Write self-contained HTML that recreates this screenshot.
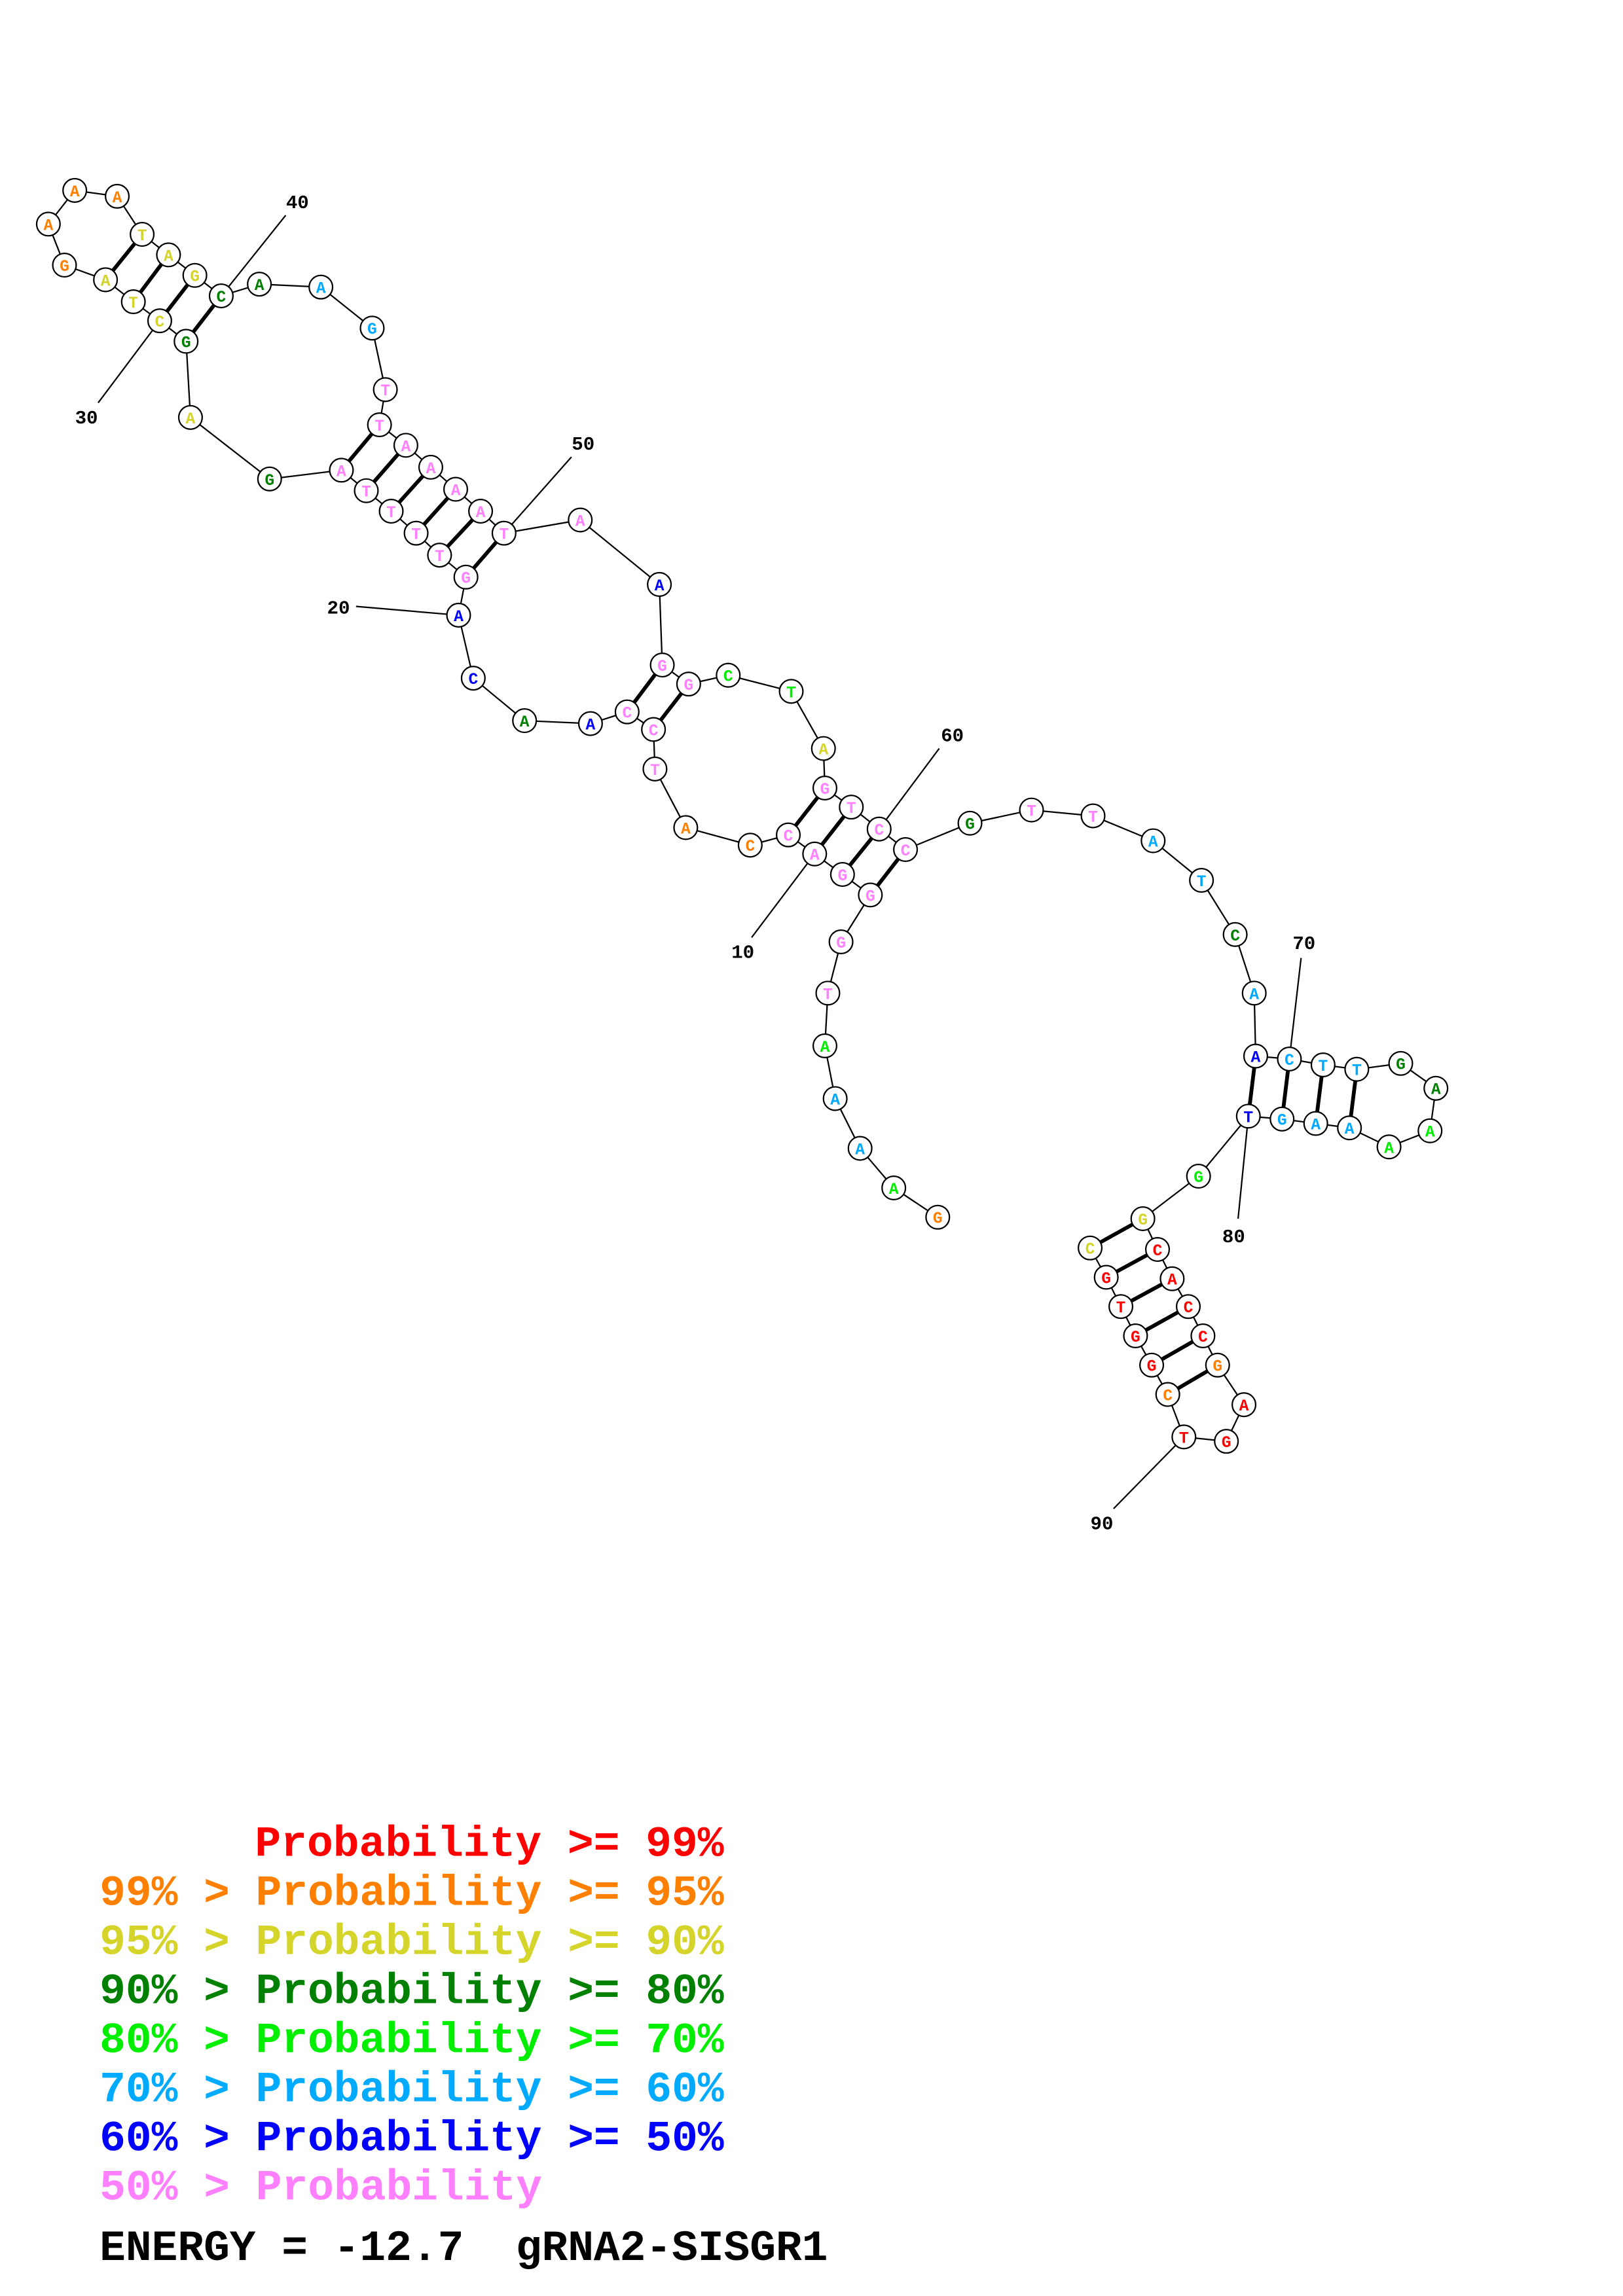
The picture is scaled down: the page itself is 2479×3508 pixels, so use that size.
<!DOCTYPE html>
<html><head><meta charset="utf-8"><style>
html,body{margin:0;padding:0;background:#fff;}
svg{display:block;}
.n circle{fill:#fff;stroke:#000;stroke-width:1;}
.n text{font-family:"Liberation Mono",monospace;font-weight:bold;font-size:11px;text-anchor:middle;}
.lab{font-family:"Liberation Mono",monospace;font-weight:bold;font-size:13px;text-anchor:middle;fill:#000;}
.leg{font-family:"Liberation Mono",monospace;font-weight:bold;font-size:29.5px;}
.R{fill:#ff0000}.O{fill:#ff8000}.Y{fill:#d4d42a}.D{fill:#008000}.L{fill:#00ee00}.C{fill:#00aaff}.B{fill:#0000ff}.P{fill:#ff80ff}
</style></head><body>
<svg width="2479" height="3508" viewBox="0 0 1107.7 1567.5" preserveAspectRatio="none" xmlns="http://www.w3.org/2000/svg">
<g stroke="#000" stroke-width="1" fill="none">
<polyline points="640,831 610,811 587,784 570,750 563,714 565,678 574,643 594,611 575,597 556,583 538,570 512,577 468,565 447,525 446,498 428,486 403,494 358,492 323,463 313,420 318,394 300,379 284,364 267,349 250,335 233,321 184,327 130,285 127,233 109,219 91,206 72,191 44,181 33,153 51,130 80,134 97,160 115,174 133,188 151,202 177,194 219,196 254,224 263,266 259,290 277,304 294,319 311,334 328,349 344,364 396,355 450,399 452,454 470,467 497,461 540,472 562,511 563,538 581,551 600,566 618,580 662,562 704,553 746,557 787,574 820,601 843,638 856,678 857,721 880,723 903,727 926,730 956,726 980,743 976,772 948,783 921,770 898,767 875,764 852,762 818,803 780,832 790,853 800,873 811,892 821,912 831,932 849,959 837,984 808,981 797,952 786,932 775,912 765,892 755,872 744,852"/>
<line x1="513" y1="640" x2="556" y2="583"/>
<line x1="243" y1="414" x2="313" y2="420"/>
<line x1="67" y1="275" x2="109" y2="219"/>
<line x1="195" y1="147" x2="151" y2="202"/>
<line x1="390" y1="312" x2="344" y2="364"/>
<line x1="641" y1="511" x2="600" y2="566"/>
<line x1="888" y1="654" x2="880" y2="723"/>
<line x1="845" y1="832" x2="852" y2="762"/>
<line x1="760" y1="1030" x2="808" y2="981"/>
</g>
<g stroke="#000" stroke-width="2.6">
<line x1="594" y1="611" x2="618" y2="580"/><line x1="575" y1="597" x2="600" y2="566"/><line x1="556" y1="583" x2="581" y2="551"/><line x1="538" y1="570" x2="563" y2="538"/>
<line x1="446" y1="498" x2="470" y2="467"/><line x1="428" y1="486" x2="452" y2="454"/>
<line x1="318" y1="394" x2="344" y2="364"/><line x1="300" y1="379" x2="328" y2="349"/><line x1="284" y1="364" x2="311" y2="334"/><line x1="267" y1="349" x2="294" y2="319"/><line x1="250" y1="335" x2="277" y2="304"/><line x1="233" y1="321" x2="259" y2="290"/>
<line x1="127" y1="233" x2="151" y2="202"/><line x1="109" y1="219" x2="133" y2="188"/><line x1="91" y1="206" x2="115" y2="174"/><line x1="72" y1="191" x2="97" y2="160"/>
<line x1="857" y1="721" x2="852" y2="762"/><line x1="880" y1="723" x2="875" y2="764"/><line x1="903" y1="727" x2="898" y2="767"/><line x1="926" y1="730" x2="921" y2="770"/>
<line x1="780" y1="832" x2="744" y2="852"/><line x1="790" y1="853" x2="755" y2="872"/><line x1="800" y1="873" x2="765" y2="892"/><line x1="811" y1="892" x2="775" y2="912"/><line x1="821" y1="912" x2="786" y2="932"/><line x1="831" y1="932" x2="797" y2="952"/>
</g>
<g class="n">
<circle cx="640" cy="831" r="8"/><text x="640" y="835" class="O">G</text>
<circle cx="610" cy="811" r="8"/><text x="610" y="815" class="L">A</text>
<circle cx="587" cy="784" r="8"/><text x="587" y="788" class="C">A</text>
<circle cx="570" cy="750" r="8"/><text x="570" y="754" class="C">A</text>
<circle cx="563" cy="714" r="8"/><text x="563" y="718" class="L">A</text>
<circle cx="565" cy="678" r="8"/><text x="565" y="682" class="P">T</text>
<circle cx="574" cy="643" r="8"/><text x="574" y="647" class="P">G</text>
<circle cx="594" cy="611" r="8"/><text x="594" y="615" class="P">G</text>
<circle cx="575" cy="597" r="8"/><text x="575" y="601" class="P">G</text>
<circle cx="556" cy="583" r="8"/><text x="556" y="587" class="P">A</text>
<circle cx="538" cy="570" r="8"/><text x="538" y="574" class="P">C</text>
<circle cx="512" cy="577" r="8"/><text x="512" y="581" class="O">C</text>
<circle cx="468" cy="565" r="8"/><text x="468" y="569" class="O">A</text>
<circle cx="447" cy="525" r="8"/><text x="447" y="529" class="P">T</text>
<circle cx="446" cy="498" r="8"/><text x="446" y="502" class="P">C</text>
<circle cx="428" cy="486" r="8"/><text x="428" y="490" class="P">C</text>
<circle cx="403" cy="494" r="8"/><text x="403" y="498" class="B">A</text>
<circle cx="358" cy="492" r="8"/><text x="358" y="496" class="D">A</text>
<circle cx="323" cy="463" r="8"/><text x="323" y="467" class="B">C</text>
<circle cx="313" cy="420" r="8"/><text x="313" y="424" class="B">A</text>
<circle cx="318" cy="394" r="8"/><text x="318" y="398" class="P">G</text>
<circle cx="300" cy="379" r="8"/><text x="300" y="383" class="P">T</text>
<circle cx="284" cy="364" r="8"/><text x="284" y="368" class="P">T</text>
<circle cx="267" cy="349" r="8"/><text x="267" y="353" class="P">T</text>
<circle cx="250" cy="335" r="8"/><text x="250" y="339" class="P">T</text>
<circle cx="233" cy="321" r="8"/><text x="233" y="325" class="P">A</text>
<circle cx="184" cy="327" r="8"/><text x="184" y="331" class="D">G</text>
<circle cx="130" cy="285" r="8"/><text x="130" y="289" class="Y">A</text>
<circle cx="127" cy="233" r="8"/><text x="127" y="237" class="D">G</text>
<circle cx="109" cy="219" r="8"/><text x="109" y="223" class="Y">C</text>
<circle cx="91" cy="206" r="8"/><text x="91" y="210" class="Y">T</text>
<circle cx="72" cy="191" r="8"/><text x="72" y="195" class="Y">A</text>
<circle cx="44" cy="181" r="8"/><text x="44" y="185" class="O">G</text>
<circle cx="33" cy="153" r="8"/><text x="33" y="157" class="O">A</text>
<circle cx="51" cy="130" r="8"/><text x="51" y="134" class="O">A</text>
<circle cx="80" cy="134" r="8"/><text x="80" y="138" class="O">A</text>
<circle cx="97" cy="160" r="8"/><text x="97" y="164" class="Y">T</text>
<circle cx="115" cy="174" r="8"/><text x="115" y="178" class="Y">A</text>
<circle cx="133" cy="188" r="8"/><text x="133" y="192" class="Y">G</text>
<circle cx="151" cy="202" r="8"/><text x="151" y="206" class="D">C</text>
<circle cx="177" cy="194" r="8"/><text x="177" y="198" class="D">A</text>
<circle cx="219" cy="196" r="8"/><text x="219" y="200" class="C">A</text>
<circle cx="254" cy="224" r="8"/><text x="254" y="228" class="C">G</text>
<circle cx="263" cy="266" r="8"/><text x="263" y="270" class="P">T</text>
<circle cx="259" cy="290" r="8"/><text x="259" y="294" class="P">T</text>
<circle cx="277" cy="304" r="8"/><text x="277" y="308" class="P">A</text>
<circle cx="294" cy="319" r="8"/><text x="294" y="323" class="P">A</text>
<circle cx="311" cy="334" r="8"/><text x="311" y="338" class="P">A</text>
<circle cx="328" cy="349" r="8"/><text x="328" y="353" class="P">A</text>
<circle cx="344" cy="364" r="8"/><text x="344" y="368" class="P">T</text>
<circle cx="396" cy="355" r="8"/><text x="396" y="359" class="P">A</text>
<circle cx="450" cy="399" r="8"/><text x="450" y="403" class="B">A</text>
<circle cx="452" cy="454" r="8"/><text x="452" y="458" class="P">G</text>
<circle cx="470" cy="467" r="8"/><text x="470" y="471" class="P">G</text>
<circle cx="497" cy="461" r="8"/><text x="497" y="465" class="L">C</text>
<circle cx="540" cy="472" r="8"/><text x="540" y="476" class="L">T</text>
<circle cx="562" cy="511" r="8"/><text x="562" y="515" class="Y">A</text>
<circle cx="563" cy="538" r="8"/><text x="563" y="542" class="P">G</text>
<circle cx="581" cy="551" r="8"/><text x="581" y="555" class="P">T</text>
<circle cx="600" cy="566" r="8"/><text x="600" y="570" class="P">C</text>
<circle cx="618" cy="580" r="8"/><text x="618" y="584" class="P">C</text>
<circle cx="662" cy="562" r="8"/><text x="662" y="566" class="D">G</text>
<circle cx="704" cy="553" r="8"/><text x="704" y="557" class="P">T</text>
<circle cx="746" cy="557" r="8"/><text x="746" y="561" class="P">T</text>
<circle cx="787" cy="574" r="8"/><text x="787" y="578" class="C">A</text>
<circle cx="820" cy="601" r="8"/><text x="820" y="605" class="C">T</text>
<circle cx="843" cy="638" r="8"/><text x="843" y="642" class="D">C</text>
<circle cx="856" cy="678" r="8"/><text x="856" y="682" class="C">A</text>
<circle cx="857" cy="721" r="8"/><text x="857" y="725" class="B">A</text>
<circle cx="880" cy="723" r="8"/><text x="880" y="727" class="C">C</text>
<circle cx="903" cy="727" r="8"/><text x="903" y="731" class="C">T</text>
<circle cx="926" cy="730" r="8"/><text x="926" y="734" class="C">T</text>
<circle cx="956" cy="726" r="8"/><text x="956" y="730" class="D">G</text>
<circle cx="980" cy="743" r="8"/><text x="980" y="747" class="D">A</text>
<circle cx="976" cy="772" r="8"/><text x="976" y="776" class="L">A</text>
<circle cx="948" cy="783" r="8"/><text x="948" y="787" class="L">A</text>
<circle cx="921" cy="770" r="8"/><text x="921" y="774" class="C">A</text>
<circle cx="898" cy="767" r="8"/><text x="898" y="771" class="C">A</text>
<circle cx="875" cy="764" r="8"/><text x="875" y="768" class="C">G</text>
<circle cx="852" cy="762" r="8"/><text x="852" y="766" class="B">T</text>
<circle cx="818" cy="803" r="8"/><text x="818" y="807" class="L">G</text>
<circle cx="780" cy="832" r="8"/><text x="780" y="836" class="Y">G</text>
<circle cx="790" cy="853" r="8"/><text x="790" y="857" class="R">C</text>
<circle cx="800" cy="873" r="8"/><text x="800" y="877" class="R">A</text>
<circle cx="811" cy="892" r="8"/><text x="811" y="896" class="R">C</text>
<circle cx="821" cy="912" r="8"/><text x="821" y="916" class="R">C</text>
<circle cx="831" cy="932" r="8"/><text x="831" y="936" class="O">G</text>
<circle cx="849" cy="959" r="8"/><text x="849" y="963" class="R">A</text>
<circle cx="837" cy="984" r="8"/><text x="837" y="988" class="R">G</text>
<circle cx="808" cy="981" r="8"/><text x="808" y="985" class="R">T</text>
<circle cx="797" cy="952" r="8"/><text x="797" y="956" class="O">C</text>
<circle cx="786" cy="932" r="8"/><text x="786" y="936" class="R">G</text>
<circle cx="775" cy="912" r="8"/><text x="775" y="916" class="R">G</text>
<circle cx="765" cy="892" r="8"/><text x="765" y="896" class="R">T</text>
<circle cx="755" cy="872" r="8"/><text x="755" y="876" class="R">G</text>
<circle cx="744" cy="852" r="8"/><text x="744" y="856" class="Y">C</text>
</g>
<g class="lab">
<text x="507" y="654">10</text>
<text x="231" y="419">20</text>
<text x="59" y="289">30</text>
<text x="203" y="142">40</text>
<text x="398" y="307">50</text>
<text x="650" y="506">60</text>
<text x="890" y="648">70</text>
<text x="842" y="848">80</text>
<text x="752" y="1044">90</text>
</g>
<g class="leg">
<text x="174" y="1267" class="R" textLength="320" lengthAdjust="spacingAndGlyphs">Probability &gt;= 99%</text>
<text x="68" y="1300.5" class="O" textLength="426" lengthAdjust="spacingAndGlyphs">99% &gt; Probability &gt;= 95%</text>
<text x="68" y="1334" class="Y" textLength="426" lengthAdjust="spacingAndGlyphs">95% &gt; Probability &gt;= 90%</text>
<text x="68" y="1367.5" class="D" textLength="426" lengthAdjust="spacingAndGlyphs">90% &gt; Probability &gt;= 80%</text>
<text x="68" y="1401" class="L" textLength="426" lengthAdjust="spacingAndGlyphs">80% &gt; Probability &gt;= 70%</text>
<text x="68" y="1434.5" class="C" textLength="426" lengthAdjust="spacingAndGlyphs">70% &gt; Probability &gt;= 60%</text>
<text x="68" y="1468" class="B" textLength="426" lengthAdjust="spacingAndGlyphs">60% &gt; Probability &gt;= 50%</text>
<text x="68" y="1501.5" class="P" textLength="302" lengthAdjust="spacingAndGlyphs">50% &gt; Probability</text>
<text x="68" y="1543" fill="#000" textLength="497" lengthAdjust="spacingAndGlyphs" xml:space="preserve">ENERGY = -12.7  gRNA2-SISGR1</text>
</g>
</svg>
</body></html>
